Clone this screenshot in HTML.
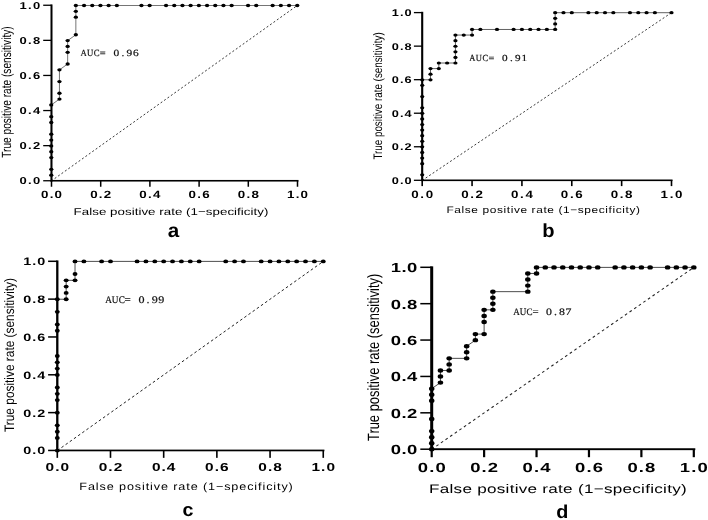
<!DOCTYPE html>
<html><head><meta charset="utf-8"><title>ROC curves</title>
<style>
html,body{margin:0;padding:0;background:#fff;}
body{width:708px;height:520px;overflow:hidden;}
svg{display:block;filter:grayscale(1);}
text{font-family:"Liberation Sans",sans-serif;fill:#000;text-rendering:geometricPrecision;}
.tk{font-weight:bold;}
.lb{fill:#000;}
.mono{font-family:"Liberation Mono",monospace;fill:#111;}
.letter{font-weight:bold;}
.ser{font-family:"Liberation Serif",serif;fill:#111;stroke:#111;stroke-width:0.2px;}
</style></head><body>
<svg width="708" height="520" viewBox="0 0 708 520">
<rect width="708" height="520" fill="#fff"/>
<g id="panel-a">
<line x1="51.25" y1="181.0" x2="297.25" y2="5.5" stroke="#222" stroke-width="0.9" stroke-dasharray="2.0 2.2"/>
<path d="M51.25 181.00 L51.25 104.95 L59.45 99.10 L59.45 69.85 L67.65 64.00 L67.65 40.60 L75.85 34.75 L75.85 5.50 L297.25 5.50" fill="none" stroke="#3a3a3a" stroke-width="0.7"/>
<ellipse cx="51.25" cy="175.15" rx="2.15" ry="1.65" fill="#000"/><ellipse cx="51.25" cy="169.30" rx="2.15" ry="1.65" fill="#000"/><ellipse cx="51.25" cy="157.60" rx="2.15" ry="1.65" fill="#000"/><ellipse cx="51.25" cy="151.75" rx="2.15" ry="1.65" fill="#000"/><ellipse cx="51.25" cy="145.90" rx="2.15" ry="1.65" fill="#000"/><ellipse cx="51.25" cy="140.05" rx="2.15" ry="1.65" fill="#000"/><ellipse cx="51.25" cy="134.20" rx="2.15" ry="1.65" fill="#000"/><ellipse cx="51.25" cy="122.50" rx="2.15" ry="1.65" fill="#000"/><ellipse cx="51.25" cy="116.65" rx="2.15" ry="1.65" fill="#000"/><ellipse cx="51.25" cy="104.95" rx="2.15" ry="1.65" fill="#000"/><ellipse cx="59.45" cy="99.10" rx="2.15" ry="1.65" fill="#000"/><ellipse cx="59.45" cy="93.25" rx="2.15" ry="1.65" fill="#000"/><ellipse cx="59.45" cy="81.55" rx="2.15" ry="1.65" fill="#000"/><ellipse cx="59.45" cy="69.85" rx="2.15" ry="1.65" fill="#000"/><ellipse cx="67.65" cy="64.00" rx="2.15" ry="1.65" fill="#000"/><ellipse cx="67.65" cy="52.30" rx="2.15" ry="1.65" fill="#000"/><ellipse cx="67.65" cy="46.45" rx="2.15" ry="1.65" fill="#000"/><ellipse cx="67.65" cy="40.60" rx="2.15" ry="1.65" fill="#000"/><ellipse cx="75.85" cy="34.75" rx="2.15" ry="1.65" fill="#000"/><ellipse cx="75.85" cy="17.20" rx="2.15" ry="1.65" fill="#000"/><ellipse cx="75.85" cy="11.35" rx="2.15" ry="1.65" fill="#000"/><ellipse cx="75.85" cy="5.50" rx="2.15" ry="1.65" fill="#000"/><ellipse cx="84.05" cy="5.50" rx="2.15" ry="1.65" fill="#000"/><ellipse cx="92.25" cy="5.50" rx="2.15" ry="1.65" fill="#000"/><ellipse cx="100.45" cy="5.50" rx="2.15" ry="1.65" fill="#000"/><ellipse cx="108.65" cy="5.50" rx="2.15" ry="1.65" fill="#000"/><ellipse cx="116.85" cy="5.50" rx="2.15" ry="1.65" fill="#000"/><ellipse cx="141.45" cy="5.50" rx="2.15" ry="1.65" fill="#000"/><ellipse cx="149.65" cy="5.50" rx="2.15" ry="1.65" fill="#000"/><ellipse cx="166.05" cy="5.50" rx="2.15" ry="1.65" fill="#000"/><ellipse cx="174.25" cy="5.50" rx="2.15" ry="1.65" fill="#000"/><ellipse cx="182.45" cy="5.50" rx="2.15" ry="1.65" fill="#000"/><ellipse cx="190.65" cy="5.50" rx="2.15" ry="1.65" fill="#000"/><ellipse cx="198.85" cy="5.50" rx="2.15" ry="1.65" fill="#000"/><ellipse cx="207.05" cy="5.50" rx="2.15" ry="1.65" fill="#000"/><ellipse cx="215.25" cy="5.50" rx="2.15" ry="1.65" fill="#000"/><ellipse cx="223.45" cy="5.50" rx="2.15" ry="1.65" fill="#000"/><ellipse cx="231.65" cy="5.50" rx="2.15" ry="1.65" fill="#000"/><ellipse cx="248.05" cy="5.50" rx="2.15" ry="1.65" fill="#000"/><ellipse cx="256.25" cy="5.50" rx="2.15" ry="1.65" fill="#000"/><ellipse cx="272.65" cy="5.50" rx="2.15" ry="1.65" fill="#000"/><ellipse cx="280.85" cy="5.50" rx="2.15" ry="1.65" fill="#000"/><ellipse cx="289.05" cy="5.50" rx="2.15" ry="1.65" fill="#000"/><ellipse cx="297.25" cy="5.50" rx="2.15" ry="1.65" fill="#000"/>
<rect x="50.50" y="4.45" width="2.0" height="177.10" fill="#000"/><rect x="50.50" y="179.95" width="248.00" height="1.6" fill="#000"/>
<rect x="43.20" y="180.10" width="8.3" height="1.3" fill="#000"/><rect x="50.75" y="180.75" width="1.5" height="6.0" fill="#000"/>
<rect x="43.20" y="145.00" width="8.3" height="1.3" fill="#000"/><rect x="99.95" y="180.75" width="1.5" height="6.0" fill="#000"/>
<rect x="43.20" y="109.90" width="8.3" height="1.3" fill="#000"/><rect x="149.15" y="180.75" width="1.5" height="6.0" fill="#000"/>
<rect x="43.20" y="74.80" width="8.3" height="1.3" fill="#000"/><rect x="198.35" y="180.75" width="1.5" height="6.0" fill="#000"/>
<rect x="43.20" y="39.70" width="8.3" height="1.3" fill="#000"/><rect x="247.55" y="180.75" width="1.5" height="6.0" fill="#000"/>
<rect x="43.20" y="4.60" width="8.3" height="1.3" fill="#000"/><rect x="296.75" y="180.75" width="1.5" height="6.0" fill="#000"/>
<text class="tk" transform="translate(41.50 184.10) scale(1.3 1)" font-size="10.0" letter-spacing="1.0" text-anchor="end">0.0</text><text class="tk" transform="translate(52.13 198.3) scale(1.27 1)" font-size="10.5" letter-spacing="1.0" text-anchor="middle">0.0</text>
<text class="tk" transform="translate(41.50 149.00) scale(1.3 1)" font-size="10.0" letter-spacing="1.0" text-anchor="end">0.2</text><text class="tk" transform="translate(101.34 198.3) scale(1.27 1)" font-size="10.5" letter-spacing="1.0" text-anchor="middle">0.2</text>
<text class="tk" transform="translate(41.50 113.90) scale(1.3 1)" font-size="10.0" letter-spacing="1.0" text-anchor="end">0.4</text><text class="tk" transform="translate(150.53 198.3) scale(1.27 1)" font-size="10.5" letter-spacing="1.0" text-anchor="middle">0.4</text>
<text class="tk" transform="translate(41.50 78.80) scale(1.3 1)" font-size="10.0" letter-spacing="1.0" text-anchor="end">0.6</text><text class="tk" transform="translate(199.73 198.3) scale(1.27 1)" font-size="10.5" letter-spacing="1.0" text-anchor="middle">0.6</text>
<text class="tk" transform="translate(41.50 43.70) scale(1.3 1)" font-size="10.0" letter-spacing="1.0" text-anchor="end">0.8</text><text class="tk" transform="translate(248.94 198.3) scale(1.27 1)" font-size="10.5" letter-spacing="1.0" text-anchor="middle">0.8</text>
<text class="tk" transform="translate(41.50 8.60) scale(1.3 1)" font-size="10.0" letter-spacing="1.0" text-anchor="end">1.0</text><text class="tk" transform="translate(298.13 198.3) scale(1.27 1)" font-size="10.5" letter-spacing="1.0" text-anchor="middle">1.0</text>
<text class="lb" transform="translate(73.6 214.6) scale(1.33 1)" font-size="10.0" letter-spacing="0.033">False positive rate (1−specificity)</text>
<text class="lb" transform="translate(11.4 157.8) rotate(-90)" font-size="13.3" textLength="131.5" lengthAdjust="spacingAndGlyphs">True positive rate (sensitivity)</text>
<text class="ser" transform="translate(83.57 56.25) scale(0.92 1)" font-size="9.49" text-anchor="middle">A</text><text class="ser" transform="translate(90.12 56.25) scale(0.92 1)" font-size="9.49" text-anchor="middle">U</text><text class="ser" transform="translate(96.66 56.25) scale(0.92 1)" font-size="9.49" text-anchor="middle">C</text><text class="ser" transform="translate(102.61 56.25) scale(1.1 1)" font-size="9.49" text-anchor="middle">=</text><text class="ser" transform="translate(116.29 56.25) scale(1.2 1)" font-size="9.49" text-anchor="middle">0</text><text class="ser" transform="translate(122.84 56.25) scale(1.2 1)" font-size="9.49" text-anchor="middle">.</text><text class="ser" transform="translate(129.38 56.25) scale(1.2 1)" font-size="9.49" text-anchor="middle">9</text><text class="ser" transform="translate(135.93 56.25) scale(1.2 1)" font-size="9.49" text-anchor="middle">6</text>
<text class="letter" transform="translate(173.5 237.3) scale(1.06 1)" font-size="19.5" text-anchor="middle">a</text>
</g>
<g id="panel-b">
<line x1="422.2" y1="180.4" x2="671.5" y2="12.7" stroke="#222" stroke-width="0.9" stroke-dasharray="2.0 2.2"/>
<path d="M422.20 180.40 L422.20 79.78 L430.51 79.78 L430.51 68.60 L438.82 68.60 L438.82 63.01 L455.44 63.01 L455.44 35.06 L472.06 35.06 L472.06 29.47 L555.16 29.47 L555.16 12.70 L671.50 12.70" fill="none" stroke="#3a3a3a" stroke-width="0.8"/>
<ellipse cx="422.20" cy="174.81" rx="2.1" ry="1.6" fill="#000"/><ellipse cx="422.20" cy="163.63" rx="2.1" ry="1.6" fill="#000"/><ellipse cx="422.20" cy="158.04" rx="2.1" ry="1.6" fill="#000"/><ellipse cx="422.20" cy="152.45" rx="2.1" ry="1.6" fill="#000"/><ellipse cx="422.20" cy="146.86" rx="2.1" ry="1.6" fill="#000"/><ellipse cx="422.20" cy="141.27" rx="2.1" ry="1.6" fill="#000"/><ellipse cx="422.20" cy="135.68" rx="2.1" ry="1.6" fill="#000"/><ellipse cx="422.20" cy="130.09" rx="2.1" ry="1.6" fill="#000"/><ellipse cx="422.20" cy="124.50" rx="2.1" ry="1.6" fill="#000"/><ellipse cx="422.20" cy="118.91" rx="2.1" ry="1.6" fill="#000"/><ellipse cx="422.20" cy="113.32" rx="2.1" ry="1.6" fill="#000"/><ellipse cx="422.20" cy="107.73" rx="2.1" ry="1.6" fill="#000"/><ellipse cx="422.20" cy="96.55" rx="2.1" ry="1.6" fill="#000"/><ellipse cx="422.20" cy="85.37" rx="2.1" ry="1.6" fill="#000"/><ellipse cx="422.20" cy="79.78" rx="2.1" ry="1.6" fill="#000"/><ellipse cx="430.51" cy="79.78" rx="2.1" ry="1.6" fill="#000"/><ellipse cx="430.51" cy="74.19" rx="2.1" ry="1.6" fill="#000"/><ellipse cx="430.51" cy="68.60" rx="2.1" ry="1.6" fill="#000"/><ellipse cx="438.82" cy="68.60" rx="2.1" ry="1.6" fill="#000"/><ellipse cx="438.82" cy="63.01" rx="2.1" ry="1.6" fill="#000"/><ellipse cx="447.13" cy="63.01" rx="2.1" ry="1.6" fill="#000"/><ellipse cx="455.44" cy="63.01" rx="2.1" ry="1.6" fill="#000"/><ellipse cx="455.44" cy="57.42" rx="2.1" ry="1.6" fill="#000"/><ellipse cx="455.44" cy="51.83" rx="2.1" ry="1.6" fill="#000"/><ellipse cx="455.44" cy="46.24" rx="2.1" ry="1.6" fill="#000"/><ellipse cx="455.44" cy="40.65" rx="2.1" ry="1.6" fill="#000"/><ellipse cx="455.44" cy="35.06" rx="2.1" ry="1.6" fill="#000"/><ellipse cx="463.75" cy="35.06" rx="2.1" ry="1.6" fill="#000"/><ellipse cx="472.06" cy="35.06" rx="2.1" ry="1.6" fill="#000"/><ellipse cx="472.06" cy="29.47" rx="2.1" ry="1.6" fill="#000"/><ellipse cx="480.37" cy="29.47" rx="2.1" ry="1.6" fill="#000"/><ellipse cx="496.99" cy="29.47" rx="2.1" ry="1.6" fill="#000"/><ellipse cx="513.61" cy="29.47" rx="2.1" ry="1.6" fill="#000"/><ellipse cx="521.92" cy="29.47" rx="2.1" ry="1.6" fill="#000"/><ellipse cx="530.23" cy="29.47" rx="2.1" ry="1.6" fill="#000"/><ellipse cx="538.54" cy="29.47" rx="2.1" ry="1.6" fill="#000"/><ellipse cx="546.85" cy="29.47" rx="2.1" ry="1.6" fill="#000"/><ellipse cx="555.16" cy="29.47" rx="2.1" ry="1.6" fill="#000"/><ellipse cx="555.16" cy="23.88" rx="2.1" ry="1.6" fill="#000"/><ellipse cx="555.16" cy="18.29" rx="2.1" ry="1.6" fill="#000"/><ellipse cx="555.16" cy="12.70" rx="2.1" ry="1.6" fill="#000"/><ellipse cx="563.47" cy="12.70" rx="2.1" ry="1.6" fill="#000"/><ellipse cx="571.78" cy="12.70" rx="2.1" ry="1.6" fill="#000"/><ellipse cx="588.40" cy="12.70" rx="2.1" ry="1.6" fill="#000"/><ellipse cx="596.71" cy="12.70" rx="2.1" ry="1.6" fill="#000"/><ellipse cx="605.02" cy="12.70" rx="2.1" ry="1.6" fill="#000"/><ellipse cx="613.33" cy="12.70" rx="2.1" ry="1.6" fill="#000"/><ellipse cx="629.95" cy="12.70" rx="2.1" ry="1.6" fill="#000"/><ellipse cx="638.26" cy="12.70" rx="2.1" ry="1.6" fill="#000"/><ellipse cx="646.57" cy="12.70" rx="2.1" ry="1.6" fill="#000"/><ellipse cx="654.88" cy="12.70" rx="2.1" ry="1.6" fill="#000"/><ellipse cx="671.50" cy="12.70" rx="2.1" ry="1.6" fill="#000"/>
<rect x="421.15" y="11.80" width="2.1" height="169.30" fill="#000"/><rect x="421.15" y="179.50" width="251.40" height="1.6" fill="#000"/>
<rect x="413.90" y="179.65" width="8.3" height="1.3" fill="#000"/><rect x="421.40" y="180.30" width="1.6" height="5.8" fill="#000"/>
<rect x="413.90" y="146.11" width="8.3" height="1.3" fill="#000"/><rect x="471.26" y="180.30" width="1.6" height="5.8" fill="#000"/>
<rect x="413.90" y="112.57" width="8.3" height="1.3" fill="#000"/><rect x="521.12" y="180.30" width="1.6" height="5.8" fill="#000"/>
<rect x="413.90" y="79.03" width="8.3" height="1.3" fill="#000"/><rect x="570.98" y="180.30" width="1.6" height="5.8" fill="#000"/>
<rect x="413.90" y="45.49" width="8.3" height="1.3" fill="#000"/><rect x="620.84" y="180.30" width="1.6" height="5.8" fill="#000"/>
<rect x="413.90" y="11.95" width="8.3" height="1.3" fill="#000"/><rect x="670.70" y="180.30" width="1.6" height="5.8" fill="#000"/>
<text class="tk" transform="translate(412.48 183.83) scale(1.3 1)" font-size="9.8" letter-spacing="0.75" text-anchor="end">0.0</text><text class="tk" transform="translate(423.01 197.8) scale(1.25 1)" font-size="10.7" letter-spacing="1.3" text-anchor="middle">0.0</text>
<text class="tk" transform="translate(412.48 150.29) scale(1.3 1)" font-size="9.8" letter-spacing="0.75" text-anchor="end">0.2</text><text class="tk" transform="translate(472.87 197.8) scale(1.25 1)" font-size="10.7" letter-spacing="1.3" text-anchor="middle">0.2</text>
<text class="tk" transform="translate(412.48 116.75) scale(1.3 1)" font-size="9.8" letter-spacing="0.75" text-anchor="end">0.4</text><text class="tk" transform="translate(522.73 197.8) scale(1.25 1)" font-size="10.7" letter-spacing="1.3" text-anchor="middle">0.4</text>
<text class="tk" transform="translate(412.48 83.21) scale(1.3 1)" font-size="9.8" letter-spacing="0.75" text-anchor="end">0.6</text><text class="tk" transform="translate(572.59 197.8) scale(1.25 1)" font-size="10.7" letter-spacing="1.3" text-anchor="middle">0.6</text>
<text class="tk" transform="translate(412.48 49.67) scale(1.3 1)" font-size="9.8" letter-spacing="0.75" text-anchor="end">0.8</text><text class="tk" transform="translate(622.45 197.8) scale(1.25 1)" font-size="10.7" letter-spacing="1.3" text-anchor="middle">0.8</text>
<text class="tk" transform="translate(412.48 16.13) scale(1.3 1)" font-size="9.8" letter-spacing="0.75" text-anchor="end">1.0</text><text class="tk" transform="translate(672.31 197.8) scale(1.25 1)" font-size="10.7" letter-spacing="1.3" text-anchor="middle">1.0</text>
<text class="lb" transform="translate(446.4 213.2) scale(1.25 1)" font-size="9.5" letter-spacing="0.495">False positive rate (1−specificity)</text>
<text class="lb" transform="translate(382.4 159.6) rotate(-90)" font-size="12.3" textLength="127.3" lengthAdjust="spacingAndGlyphs">True positive rate (sensitivity)</text>
<text class="ser" transform="translate(472.44 61) scale(0.92 1)" font-size="9.30" text-anchor="middle">A</text><text class="ser" transform="translate(478.92 61) scale(0.92 1)" font-size="9.30" text-anchor="middle">U</text><text class="ser" transform="translate(485.39 61) scale(0.92 1)" font-size="9.30" text-anchor="middle">C</text><text class="ser" transform="translate(491.27 61) scale(1.1 1)" font-size="9.30" text-anchor="middle">=</text><text class="ser" transform="translate(504.83 61) scale(1.2 1)" font-size="9.30" text-anchor="middle">0</text><text class="ser" transform="translate(511.31 61) scale(1.2 1)" font-size="9.30" text-anchor="middle">.</text><text class="ser" transform="translate(517.78 61) scale(1.2 1)" font-size="9.30" text-anchor="middle">9</text><text class="ser" transform="translate(524.26 61) scale(1.2 1)" font-size="9.30" text-anchor="middle">1</text>
<text class="letter" transform="translate(548.4 237.3) scale(1.06 1)" font-size="19" text-anchor="middle">b</text>
</g>
<g id="panel-c">
<line x1="57.3" y1="450.55" x2="323.25" y2="261.40000000000003" stroke="#222" stroke-width="1.0" stroke-dasharray="2.6 2.5"/>
<path d="M57.30 450.55 L57.30 299.23 L66.16 299.23 L66.16 280.32 L75.03 280.32 L75.03 261.40 L323.25 261.40" fill="none" stroke="#3a3a3a" stroke-width="0.9"/>
<ellipse cx="57.30" cy="450.55" rx="2.45" ry="1.9" fill="#000"/><ellipse cx="57.30" cy="437.94" rx="2.45" ry="1.9" fill="#000"/><ellipse cx="57.30" cy="431.63" rx="2.45" ry="1.9" fill="#000"/><ellipse cx="57.30" cy="425.33" rx="2.45" ry="1.9" fill="#000"/><ellipse cx="57.30" cy="412.72" rx="2.45" ry="1.9" fill="#000"/><ellipse cx="57.30" cy="400.11" rx="2.45" ry="1.9" fill="#000"/><ellipse cx="57.30" cy="393.81" rx="2.45" ry="1.9" fill="#000"/><ellipse cx="57.30" cy="387.50" rx="2.45" ry="1.9" fill="#000"/><ellipse cx="57.30" cy="374.89" rx="2.45" ry="1.9" fill="#000"/><ellipse cx="57.30" cy="368.59" rx="2.45" ry="1.9" fill="#000"/><ellipse cx="57.30" cy="362.28" rx="2.45" ry="1.9" fill="#000"/><ellipse cx="57.30" cy="355.98" rx="2.45" ry="1.9" fill="#000"/><ellipse cx="57.30" cy="330.75" rx="2.45" ry="1.9" fill="#000"/><ellipse cx="57.30" cy="324.45" rx="2.45" ry="1.9" fill="#000"/><ellipse cx="57.30" cy="311.84" rx="2.45" ry="1.9" fill="#000"/><ellipse cx="57.30" cy="299.23" rx="2.45" ry="1.9" fill="#000"/><ellipse cx="66.16" cy="299.23" rx="2.45" ry="1.9" fill="#000"/><ellipse cx="66.16" cy="292.93" rx="2.45" ry="1.9" fill="#000"/><ellipse cx="66.16" cy="286.62" rx="2.45" ry="1.9" fill="#000"/><ellipse cx="66.16" cy="280.32" rx="2.45" ry="1.9" fill="#000"/><ellipse cx="75.03" cy="280.32" rx="2.45" ry="1.9" fill="#000"/><ellipse cx="75.03" cy="274.01" rx="2.45" ry="1.9" fill="#000"/><ellipse cx="75.03" cy="261.40" rx="2.45" ry="1.9" fill="#000"/><ellipse cx="83.89" cy="261.40" rx="2.45" ry="1.9" fill="#000"/><ellipse cx="101.62" cy="261.40" rx="2.45" ry="1.9" fill="#000"/><ellipse cx="110.49" cy="261.40" rx="2.45" ry="1.9" fill="#000"/><ellipse cx="137.08" cy="261.40" rx="2.45" ry="1.9" fill="#000"/><ellipse cx="145.95" cy="261.40" rx="2.45" ry="1.9" fill="#000"/><ellipse cx="154.81" cy="261.40" rx="2.45" ry="1.9" fill="#000"/><ellipse cx="163.68" cy="261.40" rx="2.45" ry="1.9" fill="#000"/><ellipse cx="172.54" cy="261.40" rx="2.45" ry="1.9" fill="#000"/><ellipse cx="181.41" cy="261.40" rx="2.45" ry="1.9" fill="#000"/><ellipse cx="190.27" cy="261.40" rx="2.45" ry="1.9" fill="#000"/><ellipse cx="199.14" cy="261.40" rx="2.45" ry="1.9" fill="#000"/><ellipse cx="225.74" cy="261.40" rx="2.45" ry="1.9" fill="#000"/><ellipse cx="234.60" cy="261.40" rx="2.45" ry="1.9" fill="#000"/><ellipse cx="243.46" cy="261.40" rx="2.45" ry="1.9" fill="#000"/><ellipse cx="261.19" cy="261.40" rx="2.45" ry="1.9" fill="#000"/><ellipse cx="270.06" cy="261.40" rx="2.45" ry="1.9" fill="#000"/><ellipse cx="278.93" cy="261.40" rx="2.45" ry="1.9" fill="#000"/><ellipse cx="287.79" cy="261.40" rx="2.45" ry="1.9" fill="#000"/><ellipse cx="296.65" cy="261.40" rx="2.45" ry="1.9" fill="#000"/><ellipse cx="305.52" cy="261.40" rx="2.45" ry="1.9" fill="#000"/><ellipse cx="314.38" cy="261.40" rx="2.45" ry="1.9" fill="#000"/><ellipse cx="323.25" cy="261.40" rx="2.45" ry="1.9" fill="#000"/>
<rect x="56.15" y="260.45" width="2.3" height="190.85" fill="#000"/><rect x="56.15" y="449.60" width="268.25" height="1.7" fill="#000"/>
<rect x="48.10" y="449.70" width="9.2" height="1.5" fill="#000"/><rect x="56.50" y="450.45" width="1.6" height="7.4" fill="#000"/>
<rect x="48.10" y="411.87" width="9.2" height="1.5" fill="#000"/><rect x="109.69" y="450.45" width="1.6" height="7.4" fill="#000"/>
<rect x="48.10" y="374.04" width="9.2" height="1.5" fill="#000"/><rect x="162.88" y="450.45" width="1.6" height="7.4" fill="#000"/>
<rect x="48.10" y="336.21" width="9.2" height="1.5" fill="#000"/><rect x="216.07" y="450.45" width="1.6" height="7.4" fill="#000"/>
<rect x="48.10" y="298.38" width="9.2" height="1.5" fill="#000"/><rect x="269.26" y="450.45" width="1.6" height="7.4" fill="#000"/>
<rect x="48.10" y="260.55" width="9.2" height="1.5" fill="#000"/><rect x="322.45" y="450.45" width="1.6" height="7.4" fill="#000"/>
<text class="tk" transform="translate(46.36 454.44) scale(1.33 1)" font-size="10.8" letter-spacing="0.8" text-anchor="end">0.0</text><text class="tk" transform="translate(57.83 470.8) scale(1.33 1)" font-size="11.6" letter-spacing="0.8" text-anchor="middle">0.0</text>
<text class="tk" transform="translate(46.36 416.61) scale(1.33 1)" font-size="10.8" letter-spacing="0.8" text-anchor="end">0.2</text><text class="tk" transform="translate(111.02 470.8) scale(1.33 1)" font-size="11.6" letter-spacing="0.8" text-anchor="middle">0.2</text>
<text class="tk" transform="translate(46.36 378.78) scale(1.33 1)" font-size="10.8" letter-spacing="0.8" text-anchor="end">0.4</text><text class="tk" transform="translate(164.21 470.8) scale(1.33 1)" font-size="11.6" letter-spacing="0.8" text-anchor="middle">0.4</text>
<text class="tk" transform="translate(46.36 340.95) scale(1.33 1)" font-size="10.8" letter-spacing="0.8" text-anchor="end">0.6</text><text class="tk" transform="translate(217.40 470.8) scale(1.33 1)" font-size="11.6" letter-spacing="0.8" text-anchor="middle">0.6</text>
<text class="tk" transform="translate(46.36 303.12) scale(1.33 1)" font-size="10.8" letter-spacing="0.8" text-anchor="end">0.8</text><text class="tk" transform="translate(270.59 470.8) scale(1.33 1)" font-size="11.6" letter-spacing="0.8" text-anchor="middle">0.8</text>
<text class="tk" transform="translate(46.36 265.29) scale(1.33 1)" font-size="10.8" letter-spacing="0.8" text-anchor="end">1.0</text><text class="tk" transform="translate(323.78 470.8) scale(1.33 1)" font-size="11.6" letter-spacing="0.8" text-anchor="middle">1.0</text>
<text class="lb" transform="translate(79.3 490) scale(1.2 1)" font-size="10.5" letter-spacing="0.745">False positive rate (1−specificity)</text>
<text class="lb" transform="translate(13.8 432) rotate(-90)" font-size="13.7" textLength="154" lengthAdjust="spacingAndGlyphs">True positive rate (sensitivity)</text>
<text class="ser" transform="translate(108.59 303) scale(0.92 1)" font-size="10.04" text-anchor="middle">A</text><text class="ser" transform="translate(115.17 303) scale(0.92 1)" font-size="10.04" text-anchor="middle">U</text><text class="ser" transform="translate(121.74 303) scale(0.92 1)" font-size="10.04" text-anchor="middle">C</text><text class="ser" transform="translate(127.72 303) scale(1.1 1)" font-size="10.04" text-anchor="middle">=</text><text class="ser" transform="translate(141.48 303) scale(1.2 1)" font-size="10.04" text-anchor="middle">0</text><text class="ser" transform="translate(148.06 303) scale(1.2 1)" font-size="10.04" text-anchor="middle">.</text><text class="ser" transform="translate(154.63 303) scale(1.2 1)" font-size="10.04" text-anchor="middle">9</text><text class="ser" transform="translate(161.21 303) scale(1.2 1)" font-size="10.04" text-anchor="middle">9</text>
<text class="letter" transform="translate(187.9 516.3) scale(1.06 1)" font-size="18.6" text-anchor="middle">c</text>
</g>
<g id="panel-d">
<line x1="431.7" y1="449.3" x2="693.8" y2="267.40000000000003" stroke="#222" stroke-width="1.05" stroke-dasharray="2.7 2.9"/>
<path d="M431.70 449.30 L431.70 388.67 L440.44 382.60 L440.44 370.48 L449.17 370.48 L449.17 358.35 L466.65 358.35 L466.65 346.22 L475.38 340.16 L475.38 334.10 L484.12 334.10 L484.12 309.84 L492.86 309.84 L492.86 291.65 L527.80 291.65 L527.80 273.46 L536.54 273.46 L536.54 267.40 L693.80 267.40" fill="none" stroke="#3a3a3a" stroke-width="0.9"/>
<ellipse cx="431.70" cy="449.30" rx="2.75" ry="2.2" fill="#000"/><ellipse cx="431.70" cy="443.24" rx="2.75" ry="2.2" fill="#000"/><ellipse cx="431.70" cy="437.17" rx="2.75" ry="2.2" fill="#000"/><ellipse cx="431.70" cy="431.11" rx="2.75" ry="2.2" fill="#000"/><ellipse cx="431.70" cy="418.98" rx="2.75" ry="2.2" fill="#000"/><ellipse cx="431.70" cy="400.79" rx="2.75" ry="2.2" fill="#000"/><ellipse cx="431.70" cy="394.73" rx="2.75" ry="2.2" fill="#000"/><ellipse cx="431.70" cy="388.67" rx="2.75" ry="2.2" fill="#000"/><ellipse cx="440.44" cy="382.60" rx="2.75" ry="2.2" fill="#000"/><ellipse cx="440.44" cy="376.54" rx="2.75" ry="2.2" fill="#000"/><ellipse cx="440.44" cy="370.48" rx="2.75" ry="2.2" fill="#000"/><ellipse cx="449.17" cy="370.48" rx="2.75" ry="2.2" fill="#000"/><ellipse cx="449.17" cy="364.41" rx="2.75" ry="2.2" fill="#000"/><ellipse cx="449.17" cy="358.35" rx="2.75" ry="2.2" fill="#000"/><ellipse cx="466.65" cy="358.35" rx="2.75" ry="2.2" fill="#000"/><ellipse cx="466.65" cy="352.29" rx="2.75" ry="2.2" fill="#000"/><ellipse cx="466.65" cy="346.22" rx="2.75" ry="2.2" fill="#000"/><ellipse cx="475.38" cy="340.16" rx="2.75" ry="2.2" fill="#000"/><ellipse cx="475.38" cy="334.10" rx="2.75" ry="2.2" fill="#000"/><ellipse cx="484.12" cy="334.10" rx="2.75" ry="2.2" fill="#000"/><ellipse cx="484.12" cy="321.97" rx="2.75" ry="2.2" fill="#000"/><ellipse cx="484.12" cy="315.91" rx="2.75" ry="2.2" fill="#000"/><ellipse cx="484.12" cy="309.84" rx="2.75" ry="2.2" fill="#000"/><ellipse cx="492.86" cy="309.84" rx="2.75" ry="2.2" fill="#000"/><ellipse cx="492.86" cy="303.78" rx="2.75" ry="2.2" fill="#000"/><ellipse cx="492.86" cy="297.72" rx="2.75" ry="2.2" fill="#000"/><ellipse cx="492.86" cy="291.65" rx="2.75" ry="2.2" fill="#000"/><ellipse cx="527.80" cy="291.65" rx="2.75" ry="2.2" fill="#000"/><ellipse cx="527.80" cy="285.59" rx="2.75" ry="2.2" fill="#000"/><ellipse cx="527.80" cy="279.53" rx="2.75" ry="2.2" fill="#000"/><ellipse cx="527.80" cy="273.46" rx="2.75" ry="2.2" fill="#000"/><ellipse cx="536.54" cy="273.46" rx="2.75" ry="2.2" fill="#000"/><ellipse cx="536.54" cy="267.40" rx="2.75" ry="2.2" fill="#000"/><ellipse cx="545.28" cy="267.40" rx="2.75" ry="2.2" fill="#000"/><ellipse cx="554.01" cy="267.40" rx="2.75" ry="2.2" fill="#000"/><ellipse cx="562.75" cy="267.40" rx="2.75" ry="2.2" fill="#000"/><ellipse cx="571.49" cy="267.40" rx="2.75" ry="2.2" fill="#000"/><ellipse cx="580.22" cy="267.40" rx="2.75" ry="2.2" fill="#000"/><ellipse cx="588.96" cy="267.40" rx="2.75" ry="2.2" fill="#000"/><ellipse cx="597.70" cy="267.40" rx="2.75" ry="2.2" fill="#000"/><ellipse cx="615.17" cy="267.40" rx="2.75" ry="2.2" fill="#000"/><ellipse cx="623.91" cy="267.40" rx="2.75" ry="2.2" fill="#000"/><ellipse cx="632.64" cy="267.40" rx="2.75" ry="2.2" fill="#000"/><ellipse cx="641.38" cy="267.40" rx="2.75" ry="2.2" fill="#000"/><ellipse cx="650.12" cy="267.40" rx="2.75" ry="2.2" fill="#000"/><ellipse cx="667.59" cy="267.40" rx="2.75" ry="2.2" fill="#000"/><ellipse cx="676.33" cy="267.40" rx="2.75" ry="2.2" fill="#000"/><ellipse cx="685.06" cy="267.40" rx="2.75" ry="2.2" fill="#000"/><ellipse cx="693.80" cy="267.40" rx="2.75" ry="2.2" fill="#000"/>
<rect x="430.20" y="266.35" width="3.0" height="183.80" fill="#000"/><rect x="430.20" y="448.25" width="265.10" height="1.9" fill="#000"/>
<rect x="420.30" y="448.45" width="11.4" height="1.5" fill="#000"/><rect x="430.60" y="449.20" width="2.2" height="8.0" fill="#000"/>
<rect x="420.30" y="412.07" width="11.4" height="1.5" fill="#000"/><rect x="483.02" y="449.20" width="2.2" height="8.0" fill="#000"/>
<rect x="420.30" y="375.69" width="11.4" height="1.5" fill="#000"/><rect x="535.44" y="449.20" width="2.2" height="8.0" fill="#000"/>
<rect x="420.30" y="339.31" width="11.4" height="1.5" fill="#000"/><rect x="587.86" y="449.20" width="2.2" height="8.0" fill="#000"/>
<rect x="420.30" y="302.93" width="11.4" height="1.5" fill="#000"/><rect x="640.28" y="449.20" width="2.2" height="8.0" fill="#000"/>
<rect x="420.30" y="266.55" width="11.4" height="1.5" fill="#000"/><rect x="692.70" y="449.20" width="2.2" height="8.0" fill="#000"/>
<text class="tk" transform="translate(417.62 454.05) scale(1.4 1)" font-size="13.2" letter-spacing="0.3" text-anchor="end">0.0</text><text class="tk" transform="translate(432.26 472.3) scale(1.4 1)" font-size="13.2" letter-spacing="0.8" text-anchor="middle">0.0</text>
<text class="tk" transform="translate(417.62 417.67) scale(1.4 1)" font-size="13.2" letter-spacing="0.3" text-anchor="end">0.2</text><text class="tk" transform="translate(484.68 472.3) scale(1.4 1)" font-size="13.2" letter-spacing="0.8" text-anchor="middle">0.2</text>
<text class="tk" transform="translate(417.62 381.29) scale(1.4 1)" font-size="13.2" letter-spacing="0.3" text-anchor="end">0.4</text><text class="tk" transform="translate(537.10 472.3) scale(1.4 1)" font-size="13.2" letter-spacing="0.8" text-anchor="middle">0.4</text>
<text class="tk" transform="translate(417.62 344.91) scale(1.4 1)" font-size="13.2" letter-spacing="0.3" text-anchor="end">0.6</text><text class="tk" transform="translate(589.52 472.3) scale(1.4 1)" font-size="13.2" letter-spacing="0.8" text-anchor="middle">0.6</text>
<text class="tk" transform="translate(417.62 308.53) scale(1.4 1)" font-size="13.2" letter-spacing="0.3" text-anchor="end">0.8</text><text class="tk" transform="translate(641.94 472.3) scale(1.4 1)" font-size="13.2" letter-spacing="0.8" text-anchor="middle">0.8</text>
<text class="tk" transform="translate(417.62 272.15) scale(1.4 1)" font-size="13.2" letter-spacing="0.3" text-anchor="end">1.0</text><text class="tk" transform="translate(694.36 472.3) scale(1.4 1)" font-size="13.2" letter-spacing="0.8" text-anchor="middle">1.0</text>
<text class="lb" transform="translate(429 492.6) scale(1.38 1)" font-size="12.4" letter-spacing="0.196">False positive rate (1−specificity)</text>
<text class="lb" transform="translate(378.6 441) rotate(-90)" font-size="16.3" textLength="167.3" lengthAdjust="spacingAndGlyphs">True positive rate (sensitivity)</text>
<text class="ser" transform="translate(516.55 315) scale(0.92 1)" font-size="9.86" text-anchor="middle">A</text><text class="ser" transform="translate(523.05 315) scale(0.92 1)" font-size="9.86" text-anchor="middle">U</text><text class="ser" transform="translate(529.55 315) scale(0.92 1)" font-size="9.86" text-anchor="middle">C</text><text class="ser" transform="translate(535.45 315) scale(1.1 1)" font-size="9.86" text-anchor="middle">=</text><text class="ser" transform="translate(549.05 315) scale(1.2 1)" font-size="9.86" text-anchor="middle">0</text><text class="ser" transform="translate(555.55 315) scale(1.2 1)" font-size="9.86" text-anchor="middle">.</text><text class="ser" transform="translate(562.05 315) scale(1.2 1)" font-size="9.86" text-anchor="middle">8</text><text class="ser" transform="translate(568.55 315) scale(1.2 1)" font-size="9.86" text-anchor="middle">7</text>
<text class="letter" transform="translate(562.3 518.1) scale(1.06 1)" font-size="18.7" text-anchor="middle">d</text>
</g>
</svg>
</body></html>
